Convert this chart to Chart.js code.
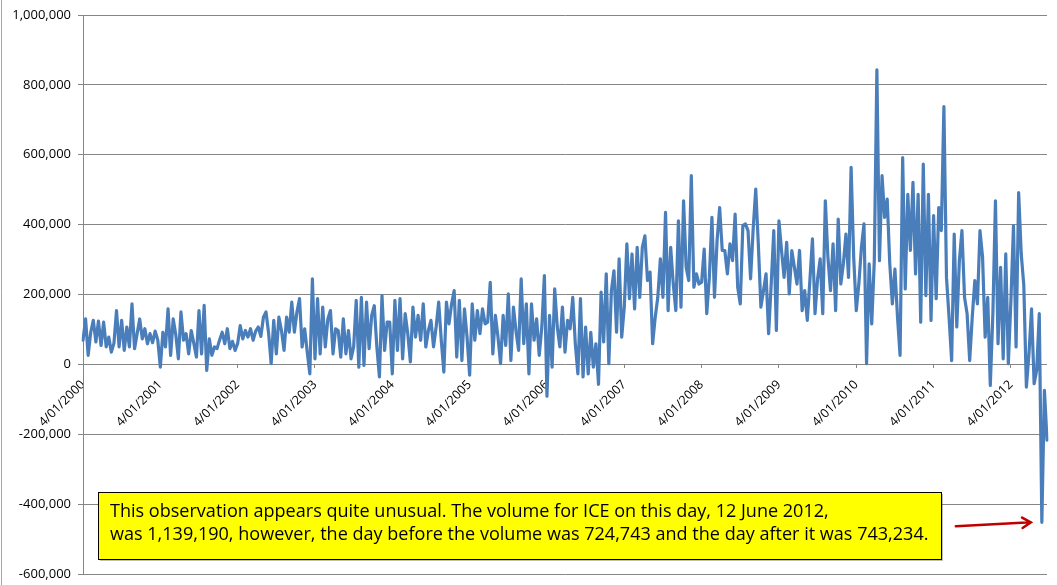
<!DOCTYPE html>
<html>
<head>
<meta charset="utf-8">
<script src="https://cdn.jsdelivr.net/npm/chart.js@4.4.1/dist/chart.umd.min.js"></script>
<style>
  html, body { margin: 0; padding: 0; background: #fff; }
  #wrap { position: relative; width: 1057px; height: 585px; }
</style>
</head>
<body>
<div id="wrap"><canvas id="volChart"></canvas></div>
<script>
// values, 30 per year
const vol2000 = [69000, 130000, 26000, 92000, 126000, 64000, 124000, 54000, 121000, 50000, 78000, 35000, 60000, 154000, 50000, 126000, 40000, 107000, 50000, 173000, 45000, 88000, 130000, 73000, 102000, 59000, 88000, 62000, 95000, 70000];
const vol2001 = [-8000, 92000, 50000, 159000, 26000, 130000, 85000, 16000, 150000, 69000, 88000, 30000, 97000, 60000, 21000, 154000, 30000, 169000, -17000, 73000, 26000, 50000, 45000, 70000, 92000, 59000, 102000, 45000, 66000, 40000];
const vol2002 = [60000, 111000, 73000, 97000, 78000, 102000, 69000, 95000, 107000, 80000, 135000, 150000, 90000, 2000, 126000, 30000, 135000, 97000, 40000, 135000, 92000, 178000, 92000, 150000, 188000, 50000, 102000, 35000, -27000, 245000];
const vol2003 = [16000, 188000, 30000, 164000, 50000, 130000, 154000, 30000, 102000, 97000, 21000, 130000, 30000, 97000, 16000, 50000, 183000, -8000, 192000, -3000, 178000, 45000, 140000, 168000, 50000, -36000, 197000, 40000, 121000, 121000];
const vol2004 = [-27000, 183000, 40000, 188000, 16000, 145000, 88000, 7000, 164000, 78000, 140000, 69000, 173000, 50000, 97000, 126000, 50000, 107000, 178000, 69000, -22000, 178000, 116000, 173000, 211000, 21000, 183000, 11000, 159000, 78000];
const vol2005 = [-31000, 173000, 69000, 154000, 88000, 159000, 116000, 121000, 235000, 30000, 140000, 78000, 2000, 140000, 54000, 202000, 11000, 164000, 95000, 40000, 245000, 59000, 173000, -27000, 173000, 69000, 130000, 26000, 107000, 254000];
const vol2006 = [-91000, 140000, -8000, 216000, 107000, 50000, 164000, 35000, 126000, 102000, 192000, 59000, -27000, 188000, -36000, 107000, -27000, 92000, -8000, 59000, -57000, 207000, 64000, 259000, 2000, 211000, 268000, 92000, 302000, 78000];
const vol2007 = [164000, 345000, 188000, 316000, 159000, 335000, 192000, 335000, 368000, 240000, 264000, 59000, 135000, 192000, 302000, 192000, 435000, 154000, 335000, 230000, 154000, 411000, 164000, 468000, 278000, 240000, 540000, 221000, 259000, 230000];
const vol2008 = [235000, 330000, 145000, 249000, 421000, 192000, 354000, 449000, 326000, 326000, 259000, 345000, 297000, 430000, 221000, 173000, 397000, 402000, 383000, 245000, 387000, 502000, 345000, 164000, 211000, 259000, 88000, 230000, 383000, 97000];
const vol2009 = [411000, 326000, 249000, 349000, 202000, 326000, 278000, 230000, 326000, 154000, 211000, 126000, 240000, 359000, 145000, 245000, 302000, 145000, 468000, 307000, 211000, 345000, 154000, 416000, 230000, 288000, 373000, 249000, 564000, 307000];
const vol2010 = [154000, 230000, 335000, 402000, 2000, 288000, 116000, 297000, 843000, 297000, 540000, 421000, 473000, 288000, 173000, 273000, 135000, 26000, 592000, 216000, 487000, 326000, 521000, 259000, 487000, 121000, 573000, 197000, 487000, 126000];
const vol2011 = [426000, 188000, 449000, 383000, 738000, 249000, 135000, 11000, 373000, 107000, 297000, 383000, 192000, 145000, 11000, 135000, 240000, 173000, 383000, 307000, 78000, 192000, -60000, 145000, 468000, 59000, 278000, 16000, 316000, 2000];
const vol2012 = [183000, 397000, 50000, 492000, 316000, 226000, -65000, 30000, 159000, -55000, -17000, 145000, -452000, -74000, -217000];

const tickLabels = ['4/01/2000', '4/01/2001', '4/01/2002', '4/01/2003', '4/01/2004', '4/01/2005', '4/01/2006',
  '4/01/2007', '4/01/2008', '4/01/2009', '4/01/2010', '4/01/2011', '4/01/2012'];
const pointsPerYear = 30;

const noteLines = [
  'This observation appears quite unusual. The volume for ICE on this day, 12 June 2012,',
  'was 1,139,190, however, the day before the volume was 724,743 and the day after it was 743,234.'
];

const volumes = [].concat(vol2000, vol2001, vol2002, vol2003, vol2004, vol2005, vol2006,
  vol2007, vol2008, vol2009, vol2010, vol2011, vol2012);
const labels = volumes.map((v, i) => (i % pointsPerYear === 0 ? tickLabels[i / pointsPerYear] : ''));

const tickFont = { family: 'Open Sans', size: 13 };

// yellow note box + red arrow pointing at the odd observation
const notePlugin = {
  id: 'note',
  afterDraw(chart) {
    const ctx = chart.ctx;
    const area = chart.chartArea;
    const xs = chart.scales.x;
    const ys = chart.scales.y;

    ctx.save();
    // frame edge on the left
    ctx.strokeStyle = '#a6a6a6';
    ctx.lineWidth = 1;
    ctx.beginPath();
    ctx.moveTo(1.5, 0);
    ctx.lineTo(1.5, chart.height);
    ctx.stroke();

    const boxL = area.left + 15;
    const boxT = area.bottom - 82;
    const boxW = 843, boxH = 67;
    ctx.fillStyle = 'rgba(0,0,0,0.25)';
    ctx.fillRect(boxL + 2, boxT + 2, boxW, boxH);
    ctx.fillStyle = '#ffff00';
    ctx.fillRect(boxL, boxT, boxW, boxH);
    ctx.strokeStyle = '#000';
    ctx.lineWidth = 1;
    ctx.strokeRect(boxL + 0.5, boxT + 0.5, boxW, boxH);

    ctx.font = '16px "Open Sans"';
    const size = 16 * 819 / ctx.measureText(noteLines[1]).width;
    ctx.font = size.toFixed(2) + 'px "Open Sans"';
    ctx.fillStyle = '#000';
    ctx.textBaseline = 'alphabetic';
    ctx.textAlign = 'left';
    ctx.fillText(noteLines[0], boxL + 12, boxT + 25);
    ctx.fillText(noteLines[1], boxL + 12, boxT + 48);

    const iMin = volumes.indexOf(Math.min(...volumes));
    const tipX = xs.getPixelForValue(iMin) - 11;
    const tipY = ys.getPixelForValue(volumes[iMin]);
    const tailX = tipX - 75, tailY = tipY + 4;
    const ang = Math.atan2(tipY - tailY, tipX - tailX);
    ctx.strokeStyle = '#c00000';
    ctx.lineWidth = 2.5;
    ctx.lineCap = 'round';
    ctx.beginPath();
    ctx.moveTo(tailX, tailY);
    ctx.lineTo(tipX, tipY);
    ctx.moveTo(tipX - 10 * Math.cos(ang - 0.55), tipY - 10 * Math.sin(ang - 0.55));
    ctx.lineTo(tipX, tipY);
    ctx.lineTo(tipX - 10 * Math.cos(ang + 0.55), tipY - 10 * Math.sin(ang + 0.55));
    ctx.stroke();
    ctx.restore();
  }
};

new Chart(document.getElementById('volChart'), {
  type: 'line',
  data: {
    labels: labels,
    datasets: [{
      data: volumes,
      borderColor: '#4a7ebb',
      borderWidth: 3.2,
      pointRadius: 0,
      tension: 0,
      borderJoinStyle: 'round',
      borderCapStyle: 'round',
      fill: false
    }]
  },
  options: {
    responsive: true,
    maintainAspectRatio: false,
    animation: false,
    layout: { padding: { top: 15, right: 10, bottom: 0, left: 0 } },
    plugins: { legend: { display: false }, tooltip: { enabled: false } },
    scales: {
      x: {
        type: 'category',
        position: { y: 0 },
        grid: {
          drawOnChartArea: false,
          tickLength: 4,
          color: c => (labels[c.index] ? '#868686' : 'rgba(0,0,0,0)')
        },
        border: { display: false },
        ticks: { autoSkip: false, minRotation: 45, maxRotation: 45, color: '#000', font: { family: 'Open Sans', size: 12.5 }, padding: 9 },
        afterFit: s => {
          s.height = 0;
          s.paddingLeft = 0;
          s.paddingRight = 0;
        }
      },
      y: {
        min: -600000,
        max: 1000000,
        ticks: {
          stepSize: 200000,
          color: '#000',
          font: tickFont,
          padding: 7,
          callback: v => v.toLocaleString('en-US')
        },
        grid: { color: '#868686', tickLength: 5 },
        border: { color: '#868686' },
        afterFit: s => {
          s.width = 83;
          s.paddingTop = 0;
          s.paddingBottom = 11;
        }
      }
    }
  },
  plugins: [notePlugin]
});
</script>
</body>
</html>
